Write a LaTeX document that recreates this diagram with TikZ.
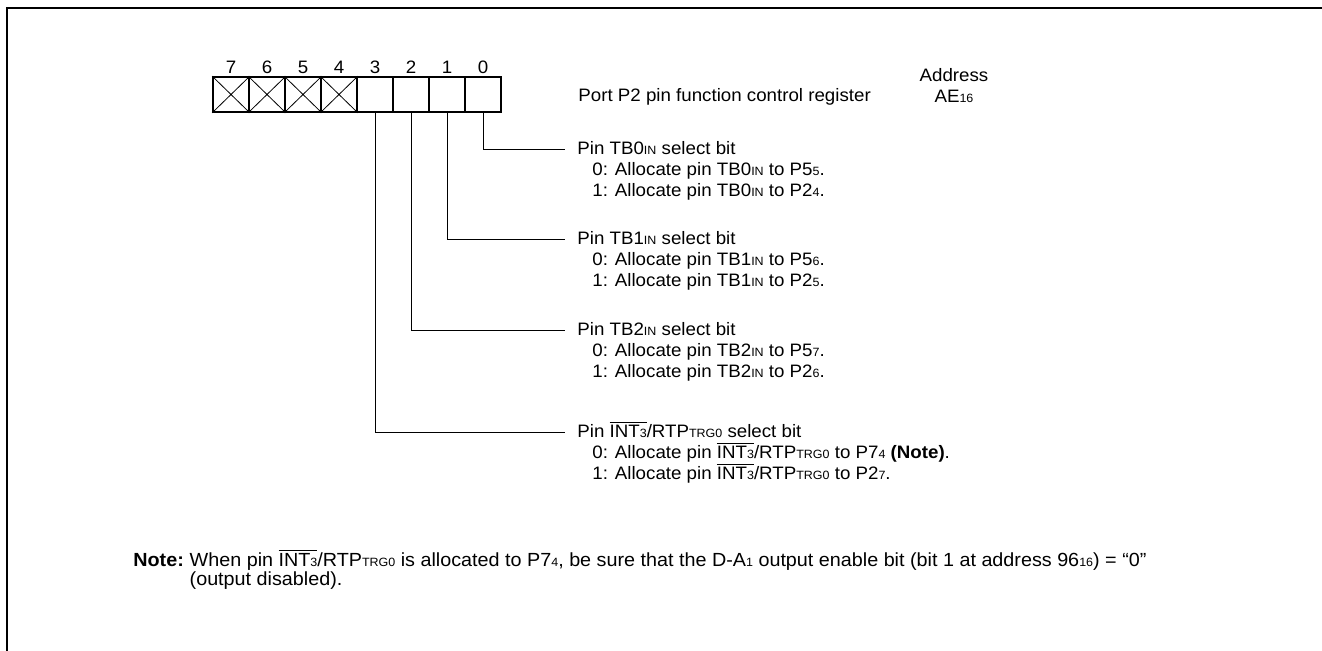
\documentclass[tikz,border=0pt]{standalone}
\usepackage{fontspec}
\setmainfont{Liberation Sans}[FakeStretch=1.04]
\usetikzlibrary{positioning}
\newcommand{\lo}[1]{{\fontsize{6}{6}\selectfont #1}}
\newcommand{\ovl}[1]{$\overline{\mbox{#1}}$}

\begin{document}
\begin{tikzpicture}[
  x=0.5pt, y=-0.5pt,
  font=\fontsize{9}{10}\selectfont,
  bitcell/.style={draw, line width=0.8pt, minimum width=18pt, minimum height=17.5pt, inner sep=0pt},
  txt/.style={inner sep=0pt, anchor=west, text height=6.4pt, text depth=1.8pt},
  ctr/.style={inner sep=0pt, text height=6.4pt, text depth=1.8pt},
  lead/.style={line width=0.5pt, shorten >=6pt},
  frame/.style={line width=1.25pt},
]
\useasboundingbox (0,0) rectangle (1322,651);
\draw[frame] (1322,8) -- (7,8) -- (7,651);

% register bits
\foreach \b in {0,...,7}
  \node[bitcell, label={[inner sep=1pt]above:\b}] (b\b) at ({231+(7-\b)*36},94.5) {};
\foreach \b in {4,...,7}
  \draw[line width=0.4pt] (b\b.north west) -- (b\b.south east) (b\b.south west) -- (b\b.north east);

\node[txt] (reg) at (578,97) {Port P2 pin function control register};
\node[ctr] (adr) at (954,77) {Address};
\node[ctr] (aeh) [below=1.8pt of adr] {AE\lo{16}};

% bit 0
\node[txt] (h0) at (577,150) {Pin TB0\lo{IN} select bit};
\node[txt] (h0a) [below right=2pt and 7.5pt of h0.south west] {0: Allocate pin TB0\lo{IN} to P5\lo{5}.};
\node[txt] (h0b) [below=2pt of h0a.south west, anchor=north west] {1: Allocate pin TB0\lo{IN} to P2\lo{4}.};

% bit 1
\node[txt] (h1) at (577,240) {Pin TB1\lo{IN} select bit};
\node[txt] (h1a) [below right=2pt and 7.5pt of h1.south west] {0: Allocate pin TB1\lo{IN} to P5\lo{6}.};
\node[txt] (h1b) [below=2pt of h1a.south west, anchor=north west] {1: Allocate pin TB1\lo{IN} to P2\lo{5}.};

% bit 2
\node[txt] (h2) at (577,331) {Pin TB2\lo{IN} select bit};
\node[txt] (h2a) [below right=2pt and 7.5pt of h2.south west] {0: Allocate pin TB2\lo{IN} to P5\lo{7}.};
\node[txt] (h2b) [below=2pt of h2a.south west, anchor=north west] {1: Allocate pin TB2\lo{IN} to P2\lo{6}.};

% bit 3
\node[txt] (h3) at (577,433) {Pin \ovl{INT\lo{3}}/RTP\lo{TRG0} select bit};
\node[txt] (h3a) [below right=2pt and 7.5pt of h3.south west] {0: Allocate pin \ovl{INT\lo{3}}/RTP\lo{TRG0} to P7\lo{4} \textbf{(Note)}.};
\node[txt] (h3b) [below=2pt of h3a.south west, anchor=north west] {1: Allocate pin \ovl{INT\lo{3}}/RTP\lo{TRG0} to P2\lo{7}.};

\foreach \b in {0,...,3}
  \draw[lead] (b\b.south) |- (h\b.west);

% note
\begin{scope}[font=\fontsize{9.5}{10}\selectfont]
\node[txt] (nt) at (133,562) {\textbf{Note:}};
\node[txt] (nb) [right=2.5pt of nt] {When pin \ovl{INT\lo{3}}/RTP\lo{TRG0} is allocated to P7\lo{4}, be sure that the D-A\lo{1} output enable bit (bit 1 at address 96\lo{16}) = ``0''};
\node[txt] (nc) [below=0.8pt of nb.south west, anchor=north west] {(output disabled).};
\end{scope}
\end{tikzpicture}
\end{document}
